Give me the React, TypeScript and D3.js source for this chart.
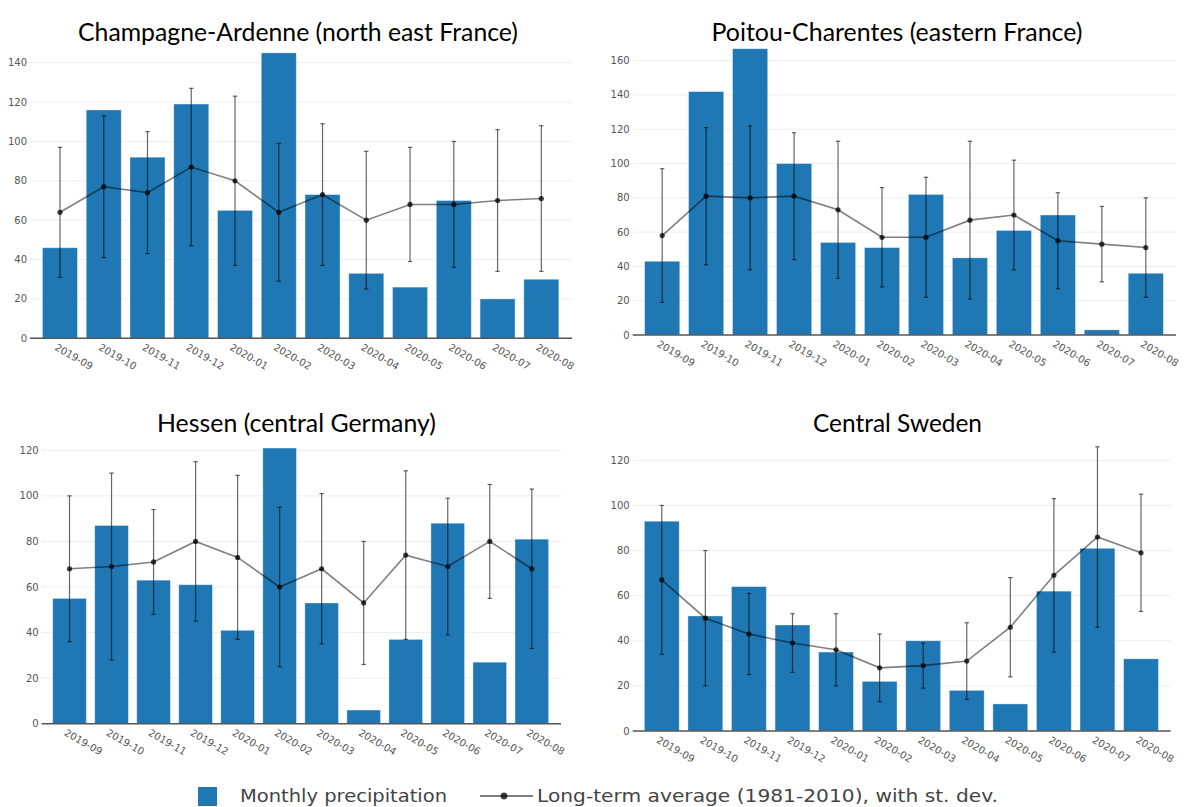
import React from "react";
import * as d3 from "d3";

const months = ["2019-09","2019-10","2019-11","2019-12","2020-01","2020-02","2020-03","2020-04","2020-05","2020-06","2020-07","2020-08"];

const champagneTitle = "Champagne-Ardenne (north east France)";
const champagnePrecip = [46, 116, 92, 119, 65, 145, 73, 33, 26, 70, 20, 30];
const champagneAvg = [64, 77, 74, 87, 80, 64, 73, 60, 68, 68, 70, 71];
const champagneSd = [33, 36, 31, 40, 43, 35, 36, 35, 29, 32, 36, 37];
const champagneTicks = [0, 20, 40, 60, 80, 100, 120, 140];

const poitouTitle = "Poitou-Charentes (eastern France)";
const poitouPrecip = [43, 142, 167, 100, 54, 51, 82, 45, 61, 70, 3, 36];
const poitouAvg = [58, 81, 80, 81, 73, 57, 57, 67, 70, 55, 53, 51];
const poitouSd = [39, 40, 42, 37, 40, 29, 35, 46, 32, 28, 22, 29];
const poitouTicks = [0, 20, 40, 60, 80, 100, 120, 140, 160];

const hessenTitle = "Hessen (central Germany)";
const hessenPrecip = [55, 87, 63, 61, 41, 121, 53, 6, 37, 88, 27, 81];
const hessenAvg = [68, 69, 71, 80, 73, 60, 68, 53, 74, 69, 80, 68];
const hessenSd = [32, 41, 23, 35, 36, 35, 33, 27, 37, 30, 25, 35];
const hessenTicks = [0, 20, 40, 60, 80, 100, 120];

const swedenTitle = "Central Sweden";
const swedenPrecip = [93, 51, 64, 47, 35, 22, 40, 18, 12, 62, 81, 32];
const swedenAvg = [67, 50, 43, 39, 36, 28, 29, 31, 46, 69, 86, 79];
const swedenSd = [33, 30, 18, 13, 16, 15, 10, 17, 22, 34, 40, 26];
const swedenTicks = [0, 20, 40, 60, 80, 100, 120];

const legendBar = "Monthly precipitation";
const legendLine = "Long-term average (1981-2010), with st. dev.";

const BAR = "#1f77b4";

type Panel = {
  title: string; titleX: number; titleY: number; titleLen: number;
  precip: number[]; avg: number[]; sd: number[]; ticks: number[];
  axisL: number; axisR: number; bandL: number; bandR: number;
  y0: number; yTop: number; topVal: number;
};

const panels: Panel[] = [
  { title: champagneTitle, titleX: 298, titleY: 41, titleLen: 440, precip: champagnePrecip, avg: champagneAvg, sd: champagneSd, ticks: champagneTicks,
    axisL: 30, axisR: 572, bandL: 38.1, bandR: 563.2, y0: 338.3, yTop: 62.7, topVal: 140 },
  { title: poitouTitle, titleX: 897, titleY: 41, titleLen: 371, precip: poitouPrecip, avg: poitouAvg, sd: poitouSd, ticks: poitouTicks,
    axisL: 632.7, axisR: 1176, bandL: 640.2, bandR: 1167.8, y0: 335, yTop: 60.7, topVal: 160 },
  { title: hessenTitle, titleX: 296.5, titleY: 432, titleLen: 279, precip: hessenPrecip, avg: hessenAvg, sd: hessenSd, ticks: hessenTicks,
    axisL: 41.7, axisR: 561, bandL: 48.5, bandR: 552.8, y0: 723.7, yTop: 450.3, topVal: 120 },
  { title: swedenTitle, titleX: 897.5, titleY: 432, titleLen: 169, precip: swedenPrecip, avg: swedenAvg, sd: swedenSd, ticks: swedenTicks,
    axisL: 632.7, axisR: 1170.7, bandL: 640.0, bandR: 1162.8, y0: 731, yTop: 460.3, topVal: 120 },
];

function ChartPanel({ p }: { p: Panel }) {
  const x = d3.scaleBand<string>().domain(months).range([p.bandL, p.bandR]).paddingInner(0.2).paddingOuter(0.1);
  const y = d3.scaleLinear().domain([0, p.topVal]).range([p.y0, p.yTop]);
  const cx = (m: string) => (x(m) as number) + x.bandwidth() / 2;
  const linePath = d3.line<number>().x((_, i) => cx(months[i])).y((v) => y(v))(p.avg) || "";
  const tickFont = "'DejaVu Sans', Verdana, sans-serif";
  return (
    <g>
      <text x={p.titleX} y={p.titleY} textAnchor="middle" fontFamily="Lato, 'Open Sans', sans-serif" fontSize={25}
        fill="#000" textLength={p.titleLen} lengthAdjust="spacingAndGlyphs">{p.title}</text>
      {p.ticks.filter((t) => t !== 0).map((t) => (
        <line key={"g" + t} x1={p.axisL} x2={p.axisR} y1={y(t)} y2={y(t)} stroke="#eeeeee" strokeWidth={1} />
      ))}
      {p.ticks.map((t) => (
        <text key={"t" + t} x={p.axisL - 3} y={y(t)} dy="0.35em" textAnchor="end" fontFamily={tickFont} fontSize={10} fill="#555">{t}</text>
      ))}
      {months.map((m, i) => (
        <rect key={"b" + m} x={x(m)} y={y(p.precip[i])} width={x.bandwidth()} height={p.y0 - y(p.precip[i])}
          fill={BAR} stroke="rgba(255,255,255,0.45)" strokeWidth={0.8} />
      ))}
      <line x1={p.axisL} x2={p.axisR} y1={p.y0} y2={p.y0} stroke="#555" strokeWidth={1.6} />
      {months.map((m, i) => (
        <text key={"x" + m} transform={`translate(${cx(m) - 2},${p.y0 + 4}) rotate(30)`} dy="0.8em" textAnchor="start"
          fontFamily={tickFont} fontSize={10} fill="#555">{m}</text>
      ))}
      <path d={linePath} fill="none" stroke="rgba(0,0,0,0.5)" strokeWidth={1.6} />
      {months.map((m, i) => {
        const c = cx(m);
        const hi = y(p.avg[i] + p.sd[i]);
        const lo = y(p.avg[i] - p.sd[i]);
        return (
          <g key={"e" + m} stroke="rgba(0,0,0,0.6)" strokeWidth={1.2}>
            <line x1={c} x2={c} y1={hi} y2={lo} />
            <line x1={c - 2.2} x2={c + 2.2} y1={hi} y2={hi} />
            <line x1={c - 2.2} x2={c + 2.2} y1={lo} y2={lo} />
          </g>
        );
      })}
      {months.map((m, i) => (
        <circle key={"c" + m} cx={cx(m)} cy={y(p.avg[i])} r={2.6} fill="rgba(0,0,0,0.75)" />
      ))}
    </g>
  );
}

export default function App() {
  return (
    <svg width={1184} height={807} style={{ position: "absolute", left: 0, top: 0, background: "#fff" }}>
      <rect x={0} y={0} width={1184} height={807} fill="#fff" />
      {panels.map((p) => <ChartPanel key={p.title} p={p} />)}
      <rect x={198} y={787} width={19} height={19} fill={BAR} />
      <text x={240} y={802} fontFamily="'DejaVu Sans', Verdana, sans-serif" fontSize={18.5} fill="#444"
        textLength={207} lengthAdjust="spacingAndGlyphs">{legendBar}</text>
      <line x1={480} x2={533} y1={796} y2={796} stroke="rgba(0,0,0,0.5)" strokeWidth={2} />
      <circle cx={504} cy={796} r={3.4} fill="rgba(0,0,0,0.75)" />
      <text x={537} y={802} fontFamily="'DejaVu Sans', Verdana, sans-serif" fontSize={18.5} fill="#444"
        textLength={461} lengthAdjust="spacingAndGlyphs">{legendLine}</text>
    </svg>
  );
}
